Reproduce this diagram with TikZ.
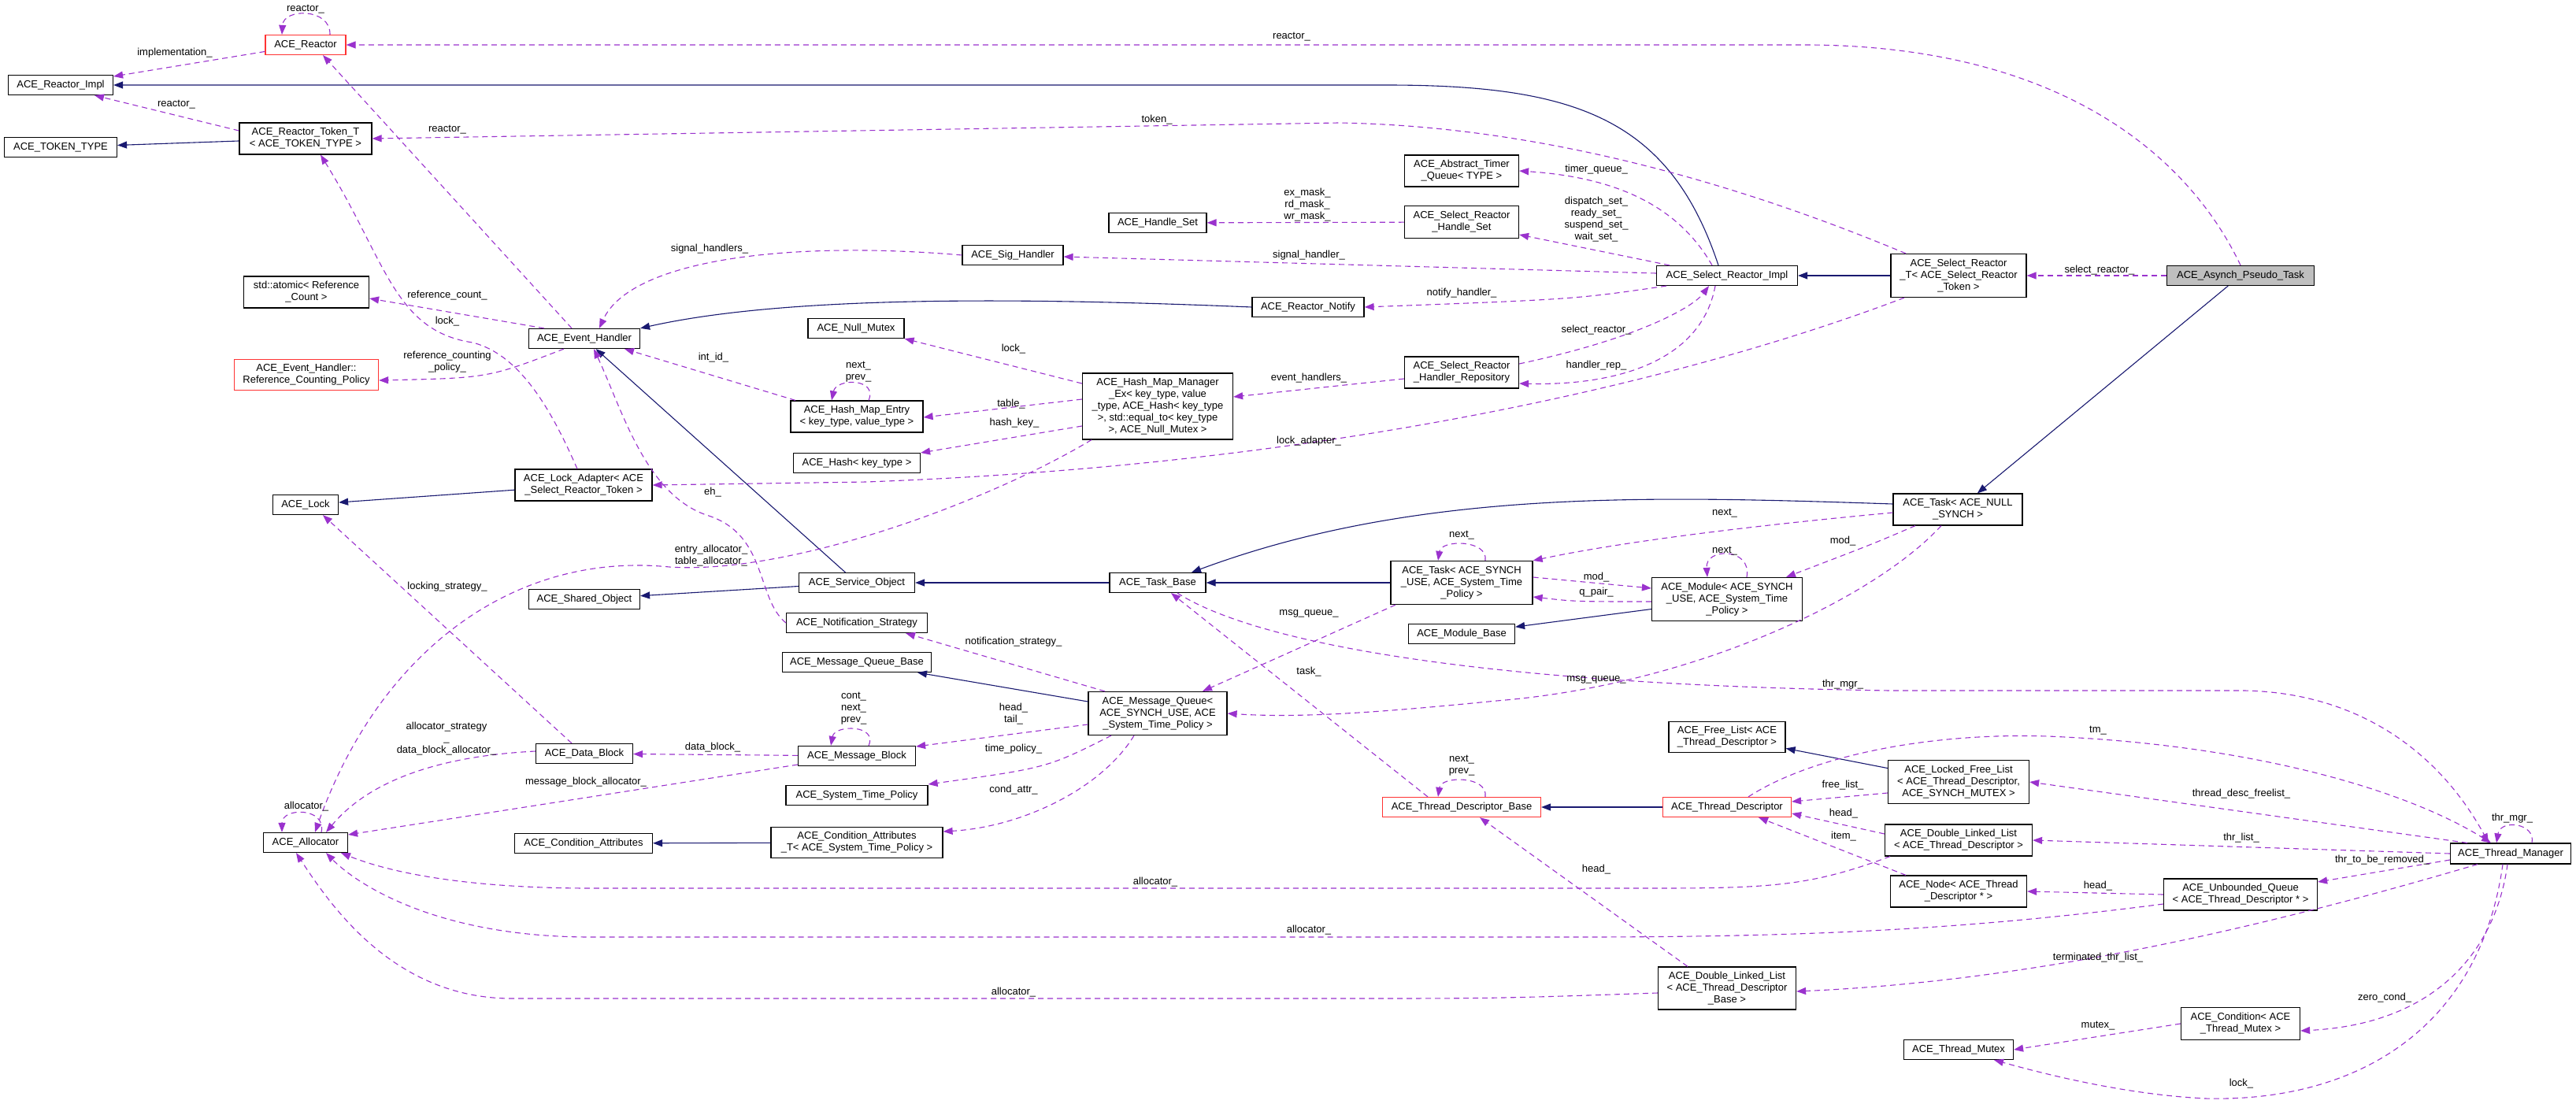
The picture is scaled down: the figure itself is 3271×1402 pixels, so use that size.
\documentclass[tikz,border=0pt]{standalone}
\usepackage{fontspec}
\setmainfont{Liberation Sans}
\usetikzlibrary{arrows.meta}
\definecolor{inhcol}{HTML}{191970}
\definecolor{usecol}{HTML}{9A32CD}
\tikzset{
  cls/.style={draw, line width=1.2pt, inner sep=2pt, align=center,
    font=\fontsize{13}{15}\selectfont},
  redcls/.style={draw=red!80},
  lbl/.style={inner sep=0pt, align=center, font=\fontsize{13}{15}\selectfont},
  inh/.style={draw=inhcol, line width=1.1pt, -{Triangle[length=12pt,width=9pt]}},
  uses/.style={draw=usecol, line width=1.1pt, dash pattern=on 7pt off 5pt,
    -{Triangle[length=12pt,width=9pt]}},
}
\newcommand{\cls}[6][]{
  \node[cls,#1,minimum width=#4,minimum height=#5] (#2) at (#3) {#6};
}
\newcommand{\lbl}[3]{
  \node[lbl] (#1) at (#2) {#3};
}
\begin{document}
\begin{tikzpicture}[x=1pt,y=-1pt]
  \useasboundingbox (0,0) rectangle (3271,1402);

  % classes, left
  \cls[redcls]{reactor}{388,57}{102}{25}{ACE\_Reactor}
  \cls{rimpl}{77,108}{133}{25}{ACE\_Reactor\_Impl}
  \cls{tokentype}{77,187}{143}{25}{ACE\_TOKEN\_TYPE}
  \cls{rtt}{388,176}{168}{40}{ACE\_Reactor\_Token\_T\\< ACE\_TOKEN\_TYPE >}
  \cls{atomic}{389,371}{159}{40}{std::atomic< Reference\\\_Count >}
  \cls[redcls]{rcp}{389,476}{183}{39}{ACE\_Event\_Handler::\\Reference\_Counting\_Policy}
  \cls{eh}{742,430}{141}{25}{ACE\_Event\_Handler}
  \cls{lockad}{741,616}{174}{40}{ACE\_Lock\_Adapter< ACE\\\_Select\_Reactor\_Token >}
  \cls{lock}{388,641}{83}{25}{ACE\_Lock}
  \cls{shared}{742,761}{141}{25}{ACE\_Shared\_Object}
  \cls{datablock}{742,957}{123}{25}{ACE\_Data\_Block}
  \cls{allocator}{388,1070}{107}{25}{ACE\_Allocator}
  \cls{condattr}{741,1071}{175}{25}{ACE\_Condition\_Attributes}

  % classes, middle
  \cls{nullmutex}{1087,417}{122}{25}{ACE\_Null\_Mutex}
  \cls{entry}{1088,529}{168}{40}{ACE\_Hash\_Map\_Entry\\< key\_type, value\_type >}
  \cls{hash}{1088,588}{161}{25}{ACE\_Hash< key\_type >}
  \cls{svc}{1088,740}{147}{25}{ACE\_Service\_Object}
  \cls{notif}{1088,791}{179}{25}{ACE\_Notification\_Strategy}
  \cls{mqbase}{1088,841}{189}{25}{ACE\_Message\_Queue\_Base}
  \cls{msgblock}{1088,960}{149}{25}{ACE\_Message\_Block}
  \cls{stp}{1088,1010}{180}{25}{ACE\_System\_Time\_Policy}
  \cls{condattrt}{1088,1070}{218}{39}{ACE\_Condition\_Attributes\\\_T< ACE\_System\_Time\_Policy >}
  \cls{handleset}{1470,283}{124}{25}{ACE\_Handle\_Set}
  \cls{sig}{1286,324}{128}{25}{ACE\_Sig\_Handler}
  \cls{hmm}{1470,516}{191}{84}{ACE\_Hash\_Map\_Manager\\\_Ex< key\_type, value\\\_type, ACE\_Hash< key\_type\\>, std::equal\_to< key\_type\\>, ACE\_Null\_Mutex >}
  \cls{taskbase}{1470,740}{122}{25}{ACE\_Task\_Base}
  \cls{mq}{1470,906}{176}{55}{ACE\_Message\_Queue<\\ACE\_SYNCH\_USE, ACE\\\_System\_Time\_Policy >}
  \cls{notify}{1661,390}{142}{25}{ACE\_Reactor\_Notify}
  \cls{atq}{1856,217}{145}{40}{ACE\_Abstract\_Timer\\\_Queue< TYPE >}
  \cls{srhs}{1856,282}{145}{41}{ACE\_Select\_Reactor\\\_Handle\_Set}
  \cls{srhr}{1856,473}{145}{40}{ACE\_Select\_Reactor\\\_Handler\_Repository}
  \cls{tsynch}{1856,740}{180}{55}{ACE\_Task< ACE\_SYNCH\\\_USE, ACE\_System\_Time\\\_Policy >}
  \cls{modbase}{1856,805}{135}{25}{ACE\_Module\_Base}
  \cls[redcls]{tdb}{1856,1025}{201}{25}{ACE\_Thread\_Descriptor\_Base}

  % classes, right
  \cls{sri}{2193,350}{179}{25}{ACE\_Select\_Reactor\_Impl}
  \cls{module}{2193,761}{191}{55}{ACE\_Module< ACE\_SYNCH\\\_USE, ACE\_System\_Time\\\_Policy >}
  \cls{freelist}{2193,936}{148}{39}{ACE\_Free\_List< ACE\\\_Thread\_Descriptor >}
  \cls[redcls]{td}{2193,1025}{163}{25}{ACE\_Thread\_Descriptor}
  \cls{dlltdb}{2193,1255}{175}{54}{ACE\_Double\_Linked\_List\\< ACE\_Thread\_Descriptor\\\_Base >}
  \cls{srt}{2487,350}{172}{55}{ACE\_Select\_Reactor\\\_T< ACE\_Select\_Reactor\\\_Token >}
  \cls{tnull}{2486,647}{164}{40}{ACE\_Task< ACE\_NULL\\\_SYNCH >}
  \cls{lfl}{2487,993}{179}{55}{ACE\_Locked\_Free\_List\\< ACE\_Thread\_Descriptor,\\ACE\_SYNCH\_MUTEX >}
  \cls{dlltd}{2487,1067}{187}{40}{ACE\_Double\_Linked\_List\\< ACE\_Thread\_Descriptor >}
  \cls{node}{2487,1132}{173}{40}{ACE\_Node< ACE\_Thread\\\_Descriptor * >}
  \cls{tmutex}{2487,1333}{139}{25}{ACE\_Thread\_Mutex}
  \cls[fill=black!25]{asynch}{2845,350}{187}{25}{ACE\_Asynch\_Pseudo\_Task}
  \cls{uq}{2845,1136}{195}{40}{ACE\_Unbounded\_Queue\\< ACE\_Thread\_Descriptor * >}
  \cls{cond}{2845,1300}{151}{41}{ACE\_Condition< ACE\\\_Thread\_Mutex >}
  \cls{tm}{3188,1084}{153}{26}{ACE\_Thread\_Manager}

  % inheritance
  \draw[inh] ([xshift=-11]sri.north) .. controls (2120,150) and (2000,108) .. (1760,108) -- (rimpl.east);
  \draw[inh] (rtt) -- (tokentype);
  \draw[inh] (srt) -- (sri);
  \draw[inh] (asynch) -- (tnull);
  \draw[inh] (notify.west) .. controls (1300,378) and (1000,375) .. (eh.north east);
  \draw[inh] (svc) -- (eh);
  \draw[inh] (svc) -- (shared);
  \draw[inh] (taskbase) -- (svc);
  \draw[inh] (tsynch) -- (taskbase);
  \draw[inh] ([yshift=7]tnull.west) .. controls (2100,630) and (1800,620) .. ([xshift=43]taskbase.north);
  \draw[inh] (module) -- (modbase);
  \draw[inh] (mq) -- (mqbase);
  \draw[inh] (lockad) -- (lock);
  \draw[inh] (condattrt) -- (condattr);
  \draw[inh] (td) -- (tdb);
  \draw[inh] (lfl) -- (freelist);

  % usage, reactor side
  \draw[uses] (asynch.north) .. controls (2780,200) and (2620,60) .. (2300,57) -- (reactor.east);
  \draw[uses] ([xshift=31]reactor.north) .. controls (420,10) and (360,10) .. ([xshift=-30]reactor.north);
  \draw[uses] (reactor) -- (rimpl);
  \draw[uses] ([yshift=10]rtt.west) -- ([xshift=43]rimpl.south);
  \draw[uses] ([xshift=-16]eh.north) -- ([xshift=22]reactor.south);
  \draw[uses] ([xshift=-67]srt.north) .. controls (2200,230) and (1950,160) .. (1700,156) -- (rtt.east);
  \draw[uses] ([xshift=-51]eh.north) -- ([yshift=-8]atomic.east);
  \draw[uses] ([xshift=-8]lockad.north) .. controls (700,520) and (660,450) .. (600,435) .. controls (500,420) and (490,330) .. ([xshift=19]rtt.south);
  \draw[uses] ([xshift=-26]eh.south) .. controls (620,480) .. ([yshift=-7]rcp.east);
  \draw[uses] (sig.west) .. controls (1000,305) and (800,330) .. ([xshift=19]eh.north);
  \draw[uses] ([xshift=-78]entry.north) -- ([xshift=51]eh.south);
  \draw[uses] ([xshift=15]entry.north) .. controls (1115,480) and (1062,480) .. ([xshift=-32]entry.north);
  \draw[uses] ([yshift=29]hmm.west) -- (nullmutex.south east);
  \draw[uses] ([yshift=9]hmm.west) -- ([yshift=-1]entry.east);
  \draw[uses] ([yshift=-25]hmm.west) -- ([yshift=13]hash.east);
  \draw[uses] ([yshift=-8]srhr.west) -- ([yshift=12]hmm.east);
  \draw[uses] ([xshift=-19]sri.north) .. controls (2130,260) and (2050,225) .. (atq.east);
  \draw[uses] (srhs) -- (handleset);
  \draw[uses] ([xshift=-73]sri.north) -- ([yshift=-16]srhs.east);
  \draw[uses] ([yshift=3]sri.west) -- ([yshift=-2]sig.east);
  \draw[uses] ([xshift=-77]sri.south) .. controls (2000,380) .. (notify.east);
  \draw[uses] ([yshift=11]srhr.east) .. controls (2080,430) and (2150,390) .. ([xshift=-23]sri.south);
  \draw[uses] ([xshift=-15]sri.south) .. controls (2160,460) and (2050,490) .. ([yshift=-14]srhr.east);
  \draw[uses] ([xshift=-69]srt.south) .. controls (2150,480) and (1700,590) .. (1100,612) -- (lockad.east);
  \draw[uses] (notif.west) .. controls (960,760) and (975,680) .. (900,655) .. controls (820,630) and (790,520) .. ([xshift=12]eh.south);
  \draw[uses] ([xshift=-84]hmm.south) .. controls (1250,640) and (1000,730) .. (850,720) .. controls (650,700) and (480,830) .. ([xshift=12]allocator.north);

  % usage, allocator side
  \draw[uses] ([xshift=-16]datablock.north) -- ([xshift=22]lock.south);
  \draw[uses] ([yshift=3]datablock.west) .. controls (560,960) and (470,990) .. ([xshift=26]allocator.north);
  \draw[uses] ([xshift=20]allocator.north) .. controls (415,1025) and (358,1025) .. ([xshift=-30]allocator.north);
  \draw[uses] (msgblock) -- (datablock);
  \draw[uses] ([yshift=-11]msgblock.west) -- ([yshift=10]allocator.east);
  \draw[uses] ([xshift=15]msgblock.north) .. controls (1115,920) and (1060,920) .. ([xshift=-33]msgblock.north);
  \draw[uses] ([yshift=-14]mq.west) -- ([yshift=12]msgblock.east);
  \draw[uses] ([xshift=-67]mq.north) -- ([xshift=62]notif.south);
  \draw[uses] ([xshift=-59]mq.south) .. controls (1330,975) .. ([yshift=14]stp.east);
  \draw[uses] ([xshift=-30]mq.south) .. controls (1400,1000) and (1300,1050) .. ([yshift=14]condattrt.east);
  \draw[uses] ([xshift=-84]tsynch.south) -- ([xshift=57]mq.north);
  \draw[uses] ([xshift=-21]tnull.south) .. controls (2380,760) and (2150,870) .. (1900,890) .. controls (1750,905) and (1650,912) .. (mq.east);
  \draw[uses] ([xshift=30]tsynch.north) .. controls (1890,685) and (1830,685) .. ([xshift=-30]tsynch.north);
  \draw[uses] ([yshift=7]tsynch.east) -- ([yshift=14]module.west);
  \draw[uses] ([yshift=-3]module.west) .. controls (2000,764) .. ([yshift=-18]tsynch.east);
  \draw[uses] ([xshift=25]module.north) .. controls (2225,695) and (2165,695) .. ([xshift=-25]module.north);
  \draw[uses] ([xshift=-54]tnull.south) .. controls (2380,690) .. ([xshift=75]module.north);
  \draw[uses] ([yshift=-4]tnull.west) .. controls (2200,670) and (2050,690) .. (tsynch.north east);

  % usage, thread side
  \draw[uses] ([xshift=25]taskbase.south) .. controls (1600,820) and (1900,870) .. (2400,877) -- (2850,877) .. controls (3000,880) and (3100,960) .. ([xshift=-28]tm.north);
  \draw[uses] ([xshift=-43]tdb.north) -- ([xshift=17]taskbase.south);
  \draw[uses] ([xshift=30]tdb.north) .. controls (1890,985) and (1830,985) .. ([xshift=-30]tdb.north);
  \draw[uses] ([xshift=27]td.north) .. controls (2300,960) and (2450,930) .. (2600,935) .. controls (2850,945) and (3050,1000) .. ([xshift=-25]tm.north);
  \draw[uses] ([xshift=-55]tm.north) -- (lfl.east);
  \draw[uses] ([yshift=-14]lfl.west) -- ([yshift=7]td.east);
  \draw[uses] ([yshift=8]dlltd.west) -- ([yshift=-8]td.east);
  \draw[uses] ([xshift=-67]node.north) -- ([xshift=40]td.south);
  \draw[uses] (tm.west) -- (dlltd.east);
  \draw[uses] ([yshift=-8]tm.west) -- ([yshift=16]uq.east);
  \draw[uses] (uq.west) -- (node.east);
  \draw[uses] ([yshift=-12]uq.west) .. controls (2500,1180) and (2300,1190) .. (2000,1190) -- (750,1190) .. controls (550,1190) and (450,1120) .. ([xshift=26]allocator.south);
  \draw[uses] ([xshift=-87]dlltd.south) .. controls (2300,1125) and (2250,1128) .. (2100,1128) -- (750,1128) .. controls (600,1128) and (500,1110) .. ([xshift=45]allocator.south);
  \draw[uses] ([yshift=-6]dlltdb.west) .. controls (1900,1268) .. (1700,1268) -- (650,1268) .. controls (500,1268) and (420,1150) .. ([xshift=-12]allocator.south);
  \draw[uses] ([xshift=-50]dlltdb.north) -- ([xshift=23]tdb.south);
  \draw[uses] ([xshift=-42]tm.south) .. controls (2900,1170) and (2600,1245) .. ([yshift=-4]dlltdb.east);
  \draw[uses] (cond.west) -- (tmutex.east);
  \draw[uses] ([xshift=-4]tm.south) .. controls (3170,1200) and (3100,1300) .. ([yshift=-9]cond.east);
  \draw[uses] ([xshift=-10]tm.south) .. controls (3150,1300) and (3000,1400) .. (2800,1395) .. controls (2700,1390) and (2600,1365) .. ([xshift=45]tmutex.south);
  \draw[uses] ([xshift=27]tm.north) .. controls (3220,1045) and (3175,1040) .. ([xshift=-18]tm.north);
  \draw[uses] (asynch) -- (srt);

  % labels
  \lbl{l1}{388,12}{reactor\_}
  \lbl{l2}{1640,47}{reactor\_}
  \lbl{l3}{222,67}{implementation\_}
  \lbl{l4}{224,133}{reactor\_}
  \lbl{l5}{568,165}{reactor\_}
  \lbl{l6}{1469,152}{token\_}
  \lbl{l7}{568,375}{reference\_count\_}
  \lbl{l8}{568,408}{lock\_}
  \lbl{l9}{568,460}{reference\_counting\\\_policy\_}
  \lbl{l10}{901,316}{signal\_handlers\_}
  \lbl{l11}{906,454}{int\_id\_}
  \lbl{l12}{1090,472}{next\_\\prev\_}
  \lbl{l13}{1287,443}{lock\_}
  \lbl{l14}{1284,513}{table\_}
  \lbl{l15}{1288,537}{hash\_key\_}
  \lbl{l16}{1662,480}{event\_handlers\_}
  \lbl{l17}{2027,215}{timer\_queue\_}
  \lbl{l18}{1660,260}{ex\_mask\_\\rd\_mask\_\\wr\_mask\_}
  \lbl{l19}{2027,279}{dispatch\_set\_\\ready\_set\_\\suspend\_set\_\\wait\_set\_}
  \lbl{l20}{1662,324}{signal\_handler\_}
  \lbl{l21}{1856,372}{notify\_handler\_}
  \lbl{l22}{2027,419}{select\_reactor\_}
  \lbl{l23}{2027,464}{handler\_rep\_}
  \lbl{l24}{1662,560}{lock\_adapter\_}
  \lbl{l25}{905,625}{eh\_}
  \lbl{l26}{903,706}{entry\_allocator\_\\table\_allocator\_}
  \lbl{l27}{568,745}{locking\_strategy\_}
  \lbl{l28}{567,938}{allocator\_strategy\\\_\\data\_block\_allocator\_}
  \lbl{l29}{389,1024}{allocator\_}
  \lbl{l30}{905,949}{data\_block\_}
  \lbl{l31}{744,993}{message\_block\_allocator\_}
  \lbl{l32}{1084,900}{cont\_\\next\_\\prev\_}
  \lbl{l33}{1287,907}{head\_\\tail\_}
  \lbl{l34}{1287,815}{notification\_strategy\_}
  \lbl{l35}{1287,951}{time\_policy\_}
  \lbl{l36}{1287,1003}{cond\_attr\_}
  \lbl{l37}{1662,779}{msg\_queue\_}
  \lbl{l38}{2027,863}{msg\_queue\_}
  \lbl{l39}{1856,680}{next\_}
  \lbl{l40}{2027,733}{mod\_}
  \lbl{l41}{2027,752}{q\_pair\_}
  \lbl{l42}{2190,700}{next\_}
  \lbl{l43}{2340,687}{mod\_}
  \lbl{l44}{2190,652}{next\_}
  \lbl{l45}{2340,869}{thr\_mgr\_}
  \lbl{l46}{1662,853}{task\_}
  \lbl{l47}{1856,972}{next\_\\prev\_}
  \lbl{l48}{2664,928}{tm\_}
  \lbl{l49}{2846,1008}{thread\_desc\_freelist\_}
  \lbl{l50}{2340,997}{free\_list\_}
  \lbl{l51}{2341,1033}{head\_}
  \lbl{l52}{2341,1062}{item\_}
  \lbl{l53}{2846,1064}{thr\_list\_}
  \lbl{l54}{3025,1092}{thr\_to\_be\_removed\_}
  \lbl{l55}{2664,1125}{head\_}
  \lbl{l56}{1662,1181}{allocator\_}
  \lbl{l57}{1467,1120}{allocator\_}
  \lbl{l58}{1287,1260}{allocator\_}
  \lbl{l59}{2027,1104}{head\_}
  \lbl{l60}{2664,1216}{terminated\_thr\_list\_}
  \lbl{l61}{2664,1303}{mutex\_}
  \lbl{l62}{3028,1267}{zero\_cond\_}
  \lbl{l63}{2846,1376}{lock\_}
  \lbl{l64}{3190,1039}{thr\_mgr\_}
  \lbl{l65}{2666,343}{select\_reactor\_}
\end{tikzpicture}
\end{document}
